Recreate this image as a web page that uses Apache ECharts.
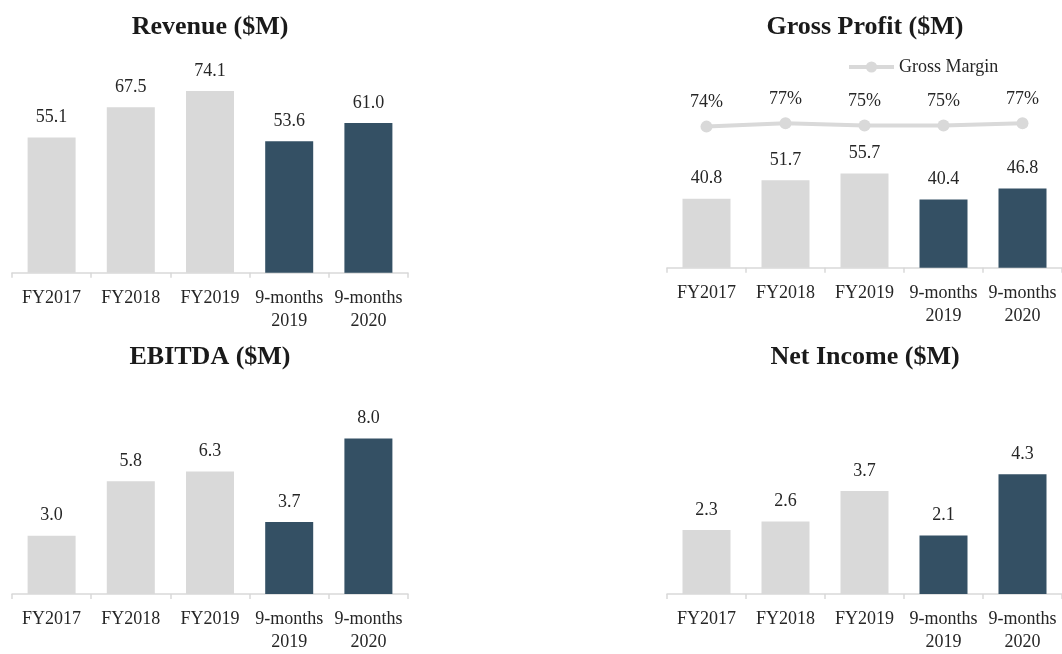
<!DOCTYPE html>
<html>
<head>
<meta charset="utf-8">
<script src="https://cdn.jsdelivr.net/npm/echarts@6/dist/echarts.min.js"></script>
<style>html,body{margin:0;padding:0;background:#fff}#c{width:1062px;height:654px}</style>
</head>
<body>
<div id="c"></div>
<script>
const categories = ['FY2017', 'FY2018', 'FY2019', '9-months\n2019', '9-months\n2020'];
const revenue = [55.1, 67.5, 74.1, 53.6, 61.0];
const grossProfit = [40.8, 51.7, 55.7, 40.4, 46.8];
const grossMargin = [74, 77, 75, 75, 77];
const ebitda = [3.0, 5.8, 6.3, 3.7, 8.0];
const netIncome = [2.3, 2.6, 3.7, 2.1, 4.3];

const FONT = '"Liberation Serif", "Times New Roman", serif';
const LIGHT = '#d9d9d9';
const DARK = '#345064';
const TEXT = '#262626';

const chart = echarts.init(document.getElementById('c'));

function xAxis(gridIndex) {
  return {
    type: 'category', gridIndex, data: categories,
    axisLine: { lineStyle: { color: LIGHT, width: 1.5 } },
    axisTick: { show: true, length: 5, lineStyle: { color: LIGHT, width: 1.5 } },
    axisLabel: { color: TEXT, fontFamily: FONT, fontSize: 18, lineHeight: 23, margin: 14, interval: 0 }
  };
}
function yAxis(gridIndex, min, max) {
  return { type: 'value', gridIndex, min, max, show: false, splitLine: { show: false } };
}
function bars(name, data, idx) {
  return {
    name, type: 'bar', xAxisIndex: idx, yAxisIndex: idx, data,
    barWidth: 48,
    itemStyle: { color: p => p.dataIndex < 3 ? LIGHT : DARK },
    label: {
      show: true, position: 'top', distance: 11,
      color: TEXT, fontFamily: FONT, fontSize: 18, lineHeight: 18,
      formatter: p => p.value.toFixed(1)
    },
    emphasis: { disabled: true }
  };
}
function title(text, x, y) {
  return {
    text, left: x, top: y, textAlign: 'center', padding: 0,
    textStyle: { fontFamily: FONT, fontSize: 26, fontWeight: 'bold', color: '#1a1a1a' }
  };
}

chart.setOption({
  animation: false,
  title: [
    title('Revenue ($M)', 210, 14),
    title('Gross Profit ($M)', 865, 14),
    title('EBITDA ($M)', 210, 344),
    title('Net Income ($M)', 865, 344)
  ],
  legend: {
    data: ['Gross Margin'], left: 847, top: 58, padding: 0,
    itemWidth: 45, itemHeight: 14, itemGap: 10,
    lineStyle: { width: 4 },
    textStyle: { fontFamily: FONT, fontSize: 18, color: TEXT }
  },
  grid: [
    { left: 12, right: 654, top: 76.5, bottom: 381.3 },
    { left: 667, right: 0, top: 64.9, bottom: 386.3 },
    { left: 12, right: 654, top: 399.7, bottom: 58.3 },
    { left: 667, right: 0, top: 398.9, bottom: 56.3 }
  ],
  xAxis: [xAxis(0), xAxis(1), xAxis(2), xAxis(3), Object.assign(xAxis(1), { show: false })],
  yAxis: [yAxis(0, 0, 80), yAxis(1, 0, 120), yAxis(2, 0, 10), yAxis(3, 0, 7), yAxis(1, -54, 130)],
  series: [
    bars('Revenue', revenue, 0),
    bars('Gross Profit', grossProfit, 1),
    bars('EBITDA', ebitda, 2),
    bars('Net Income', netIncome, 3),
    {
      name: 'Gross Margin', type: 'line', xAxisIndex: 4, yAxisIndex: 4, data: grossMargin,
      symbol: 'circle', symbolSize: 12,
      lineStyle: { color: LIGHT, width: 4 },
      itemStyle: { color: LIGHT },
      label: {
        show: true, position: 'top', distance: 9,
        color: TEXT, fontFamily: FONT, fontSize: 18, lineHeight: 18,
        formatter: p => p.value + '%'
      },
      emphasis: { disabled: true }
    }
  ]
});
</script>
</body>
</html>
